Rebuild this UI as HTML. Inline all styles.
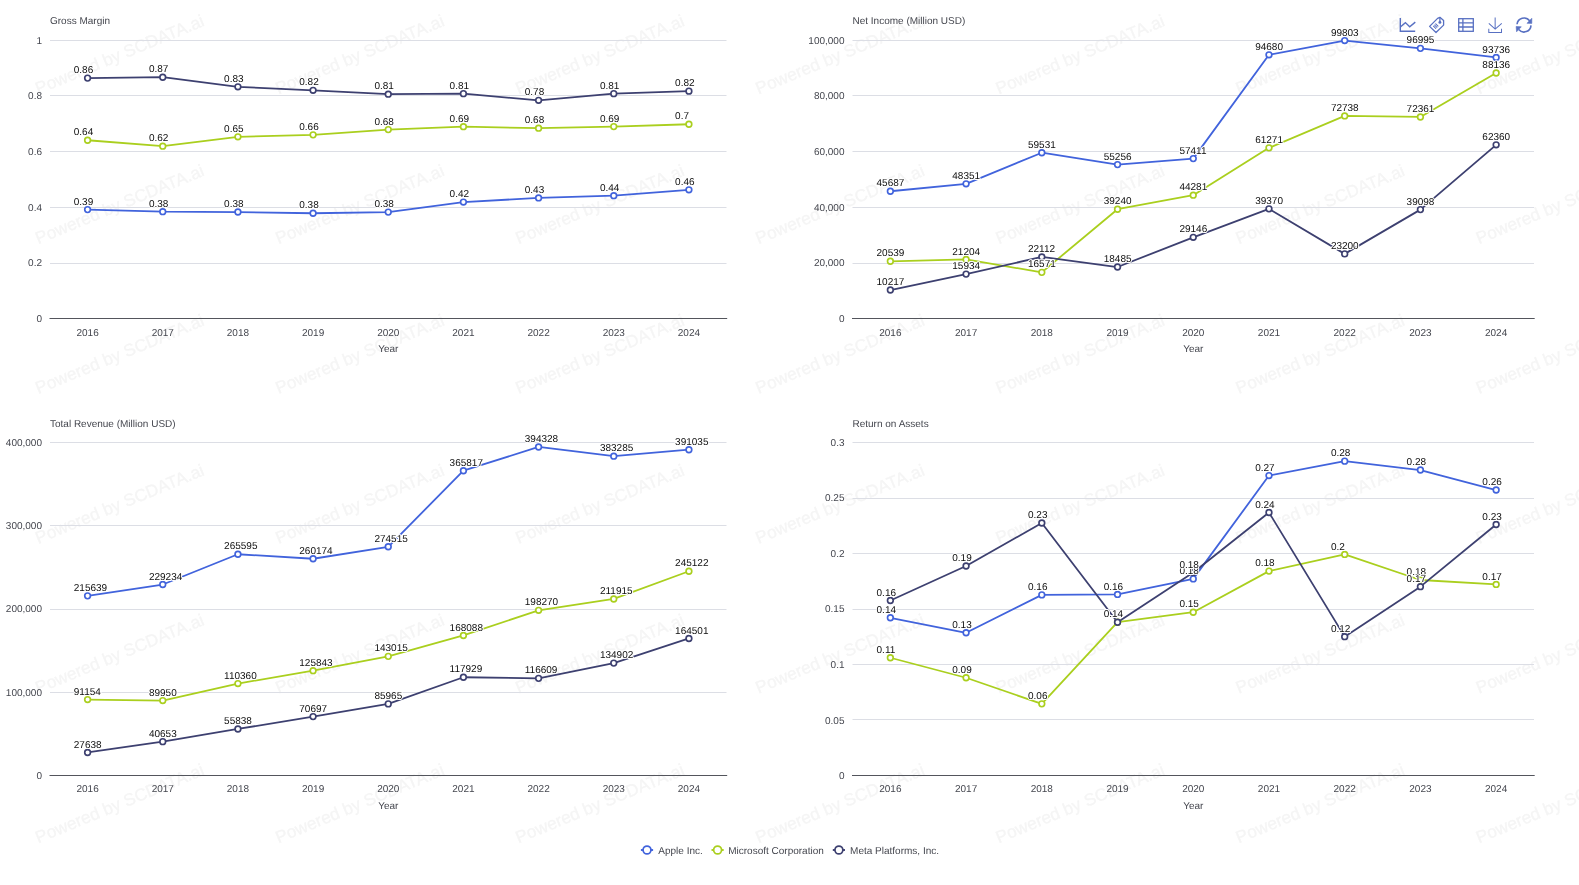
<!DOCTYPE html>
<html><head><meta charset="utf-8"><title>Chart</title>
<style>html,body{margin:0;padding:0;background:#fff;overflow:hidden;}svg{display:block;will-change:transform;}</style>
</head><body>
<svg width="1579" height="885" viewBox="0 0 1579 885" font-family='"Liberation Sans", sans-serif' font-size="10" text-rendering="geometricPrecision"><rect width="1579" height="885" fill="#fff"/><g fill="#f5f5f5" stroke="#f5f5f5" stroke-width="0.35" font-size="17.2"><text x="-201.80" y="-55.30" transform="rotate(-22.5 -201.80 -55.30)">Powered by SCDATA.ai</text><text x="38.30" y="-55.30" transform="rotate(-22.5 38.30 -55.30)">Powered by SCDATA.ai</text><text x="278.40" y="-55.30" transform="rotate(-22.5 278.40 -55.30)">Powered by SCDATA.ai</text><text x="518.50" y="-55.30" transform="rotate(-22.5 518.50 -55.30)">Powered by SCDATA.ai</text><text x="758.60" y="-55.30" transform="rotate(-22.5 758.60 -55.30)">Powered by SCDATA.ai</text><text x="998.70" y="-55.30" transform="rotate(-22.5 998.70 -55.30)">Powered by SCDATA.ai</text><text x="1238.80" y="-55.30" transform="rotate(-22.5 1238.80 -55.30)">Powered by SCDATA.ai</text><text x="1478.90" y="-55.30" transform="rotate(-22.5 1478.90 -55.30)">Powered by SCDATA.ai</text><text x="1719.00" y="-55.30" transform="rotate(-22.5 1719.00 -55.30)">Powered by SCDATA.ai</text><text x="-201.80" y="94.50" transform="rotate(-22.5 -201.80 94.50)">Powered by SCDATA.ai</text><text x="38.30" y="94.50" transform="rotate(-22.5 38.30 94.50)">Powered by SCDATA.ai</text><text x="278.40" y="94.50" transform="rotate(-22.5 278.40 94.50)">Powered by SCDATA.ai</text><text x="518.50" y="94.50" transform="rotate(-22.5 518.50 94.50)">Powered by SCDATA.ai</text><text x="758.60" y="94.50" transform="rotate(-22.5 758.60 94.50)">Powered by SCDATA.ai</text><text x="998.70" y="94.50" transform="rotate(-22.5 998.70 94.50)">Powered by SCDATA.ai</text><text x="1238.80" y="94.50" transform="rotate(-22.5 1238.80 94.50)">Powered by SCDATA.ai</text><text x="1478.90" y="94.50" transform="rotate(-22.5 1478.90 94.50)">Powered by SCDATA.ai</text><text x="1719.00" y="94.50" transform="rotate(-22.5 1719.00 94.50)">Powered by SCDATA.ai</text><text x="-201.80" y="244.30" transform="rotate(-22.5 -201.80 244.30)">Powered by SCDATA.ai</text><text x="38.30" y="244.30" transform="rotate(-22.5 38.30 244.30)">Powered by SCDATA.ai</text><text x="278.40" y="244.30" transform="rotate(-22.5 278.40 244.30)">Powered by SCDATA.ai</text><text x="518.50" y="244.30" transform="rotate(-22.5 518.50 244.30)">Powered by SCDATA.ai</text><text x="758.60" y="244.30" transform="rotate(-22.5 758.60 244.30)">Powered by SCDATA.ai</text><text x="998.70" y="244.30" transform="rotate(-22.5 998.70 244.30)">Powered by SCDATA.ai</text><text x="1238.80" y="244.30" transform="rotate(-22.5 1238.80 244.30)">Powered by SCDATA.ai</text><text x="1478.90" y="244.30" transform="rotate(-22.5 1478.90 244.30)">Powered by SCDATA.ai</text><text x="1719.00" y="244.30" transform="rotate(-22.5 1719.00 244.30)">Powered by SCDATA.ai</text><text x="-201.80" y="394.10" transform="rotate(-22.5 -201.80 394.10)">Powered by SCDATA.ai</text><text x="38.30" y="394.10" transform="rotate(-22.5 38.30 394.10)">Powered by SCDATA.ai</text><text x="278.40" y="394.10" transform="rotate(-22.5 278.40 394.10)">Powered by SCDATA.ai</text><text x="518.50" y="394.10" transform="rotate(-22.5 518.50 394.10)">Powered by SCDATA.ai</text><text x="758.60" y="394.10" transform="rotate(-22.5 758.60 394.10)">Powered by SCDATA.ai</text><text x="998.70" y="394.10" transform="rotate(-22.5 998.70 394.10)">Powered by SCDATA.ai</text><text x="1238.80" y="394.10" transform="rotate(-22.5 1238.80 394.10)">Powered by SCDATA.ai</text><text x="1478.90" y="394.10" transform="rotate(-22.5 1478.90 394.10)">Powered by SCDATA.ai</text><text x="1719.00" y="394.10" transform="rotate(-22.5 1719.00 394.10)">Powered by SCDATA.ai</text><text x="-201.80" y="543.90" transform="rotate(-22.5 -201.80 543.90)">Powered by SCDATA.ai</text><text x="38.30" y="543.90" transform="rotate(-22.5 38.30 543.90)">Powered by SCDATA.ai</text><text x="278.40" y="543.90" transform="rotate(-22.5 278.40 543.90)">Powered by SCDATA.ai</text><text x="518.50" y="543.90" transform="rotate(-22.5 518.50 543.90)">Powered by SCDATA.ai</text><text x="758.60" y="543.90" transform="rotate(-22.5 758.60 543.90)">Powered by SCDATA.ai</text><text x="998.70" y="543.90" transform="rotate(-22.5 998.70 543.90)">Powered by SCDATA.ai</text><text x="1238.80" y="543.90" transform="rotate(-22.5 1238.80 543.90)">Powered by SCDATA.ai</text><text x="1478.90" y="543.90" transform="rotate(-22.5 1478.90 543.90)">Powered by SCDATA.ai</text><text x="1719.00" y="543.90" transform="rotate(-22.5 1719.00 543.90)">Powered by SCDATA.ai</text><text x="-201.80" y="693.70" transform="rotate(-22.5 -201.80 693.70)">Powered by SCDATA.ai</text><text x="38.30" y="693.70" transform="rotate(-22.5 38.30 693.70)">Powered by SCDATA.ai</text><text x="278.40" y="693.70" transform="rotate(-22.5 278.40 693.70)">Powered by SCDATA.ai</text><text x="518.50" y="693.70" transform="rotate(-22.5 518.50 693.70)">Powered by SCDATA.ai</text><text x="758.60" y="693.70" transform="rotate(-22.5 758.60 693.70)">Powered by SCDATA.ai</text><text x="998.70" y="693.70" transform="rotate(-22.5 998.70 693.70)">Powered by SCDATA.ai</text><text x="1238.80" y="693.70" transform="rotate(-22.5 1238.80 693.70)">Powered by SCDATA.ai</text><text x="1478.90" y="693.70" transform="rotate(-22.5 1478.90 693.70)">Powered by SCDATA.ai</text><text x="1719.00" y="693.70" transform="rotate(-22.5 1719.00 693.70)">Powered by SCDATA.ai</text><text x="-201.80" y="843.50" transform="rotate(-22.5 -201.80 843.50)">Powered by SCDATA.ai</text><text x="38.30" y="843.50" transform="rotate(-22.5 38.30 843.50)">Powered by SCDATA.ai</text><text x="278.40" y="843.50" transform="rotate(-22.5 278.40 843.50)">Powered by SCDATA.ai</text><text x="518.50" y="843.50" transform="rotate(-22.5 518.50 843.50)">Powered by SCDATA.ai</text><text x="758.60" y="843.50" transform="rotate(-22.5 758.60 843.50)">Powered by SCDATA.ai</text><text x="998.70" y="843.50" transform="rotate(-22.5 998.70 843.50)">Powered by SCDATA.ai</text><text x="1238.80" y="843.50" transform="rotate(-22.5 1238.80 843.50)">Powered by SCDATA.ai</text><text x="1478.90" y="843.50" transform="rotate(-22.5 1478.90 843.50)">Powered by SCDATA.ai</text><text x="1719.00" y="843.50" transform="rotate(-22.5 1719.00 843.50)">Powered by SCDATA.ai</text><text x="-201.80" y="993.30" transform="rotate(-22.5 -201.80 993.30)">Powered by SCDATA.ai</text><text x="38.30" y="993.30" transform="rotate(-22.5 38.30 993.30)">Powered by SCDATA.ai</text><text x="278.40" y="993.30" transform="rotate(-22.5 278.40 993.30)">Powered by SCDATA.ai</text><text x="518.50" y="993.30" transform="rotate(-22.5 518.50 993.30)">Powered by SCDATA.ai</text><text x="758.60" y="993.30" transform="rotate(-22.5 758.60 993.30)">Powered by SCDATA.ai</text><text x="998.70" y="993.30" transform="rotate(-22.5 998.70 993.30)">Powered by SCDATA.ai</text><text x="1238.80" y="993.30" transform="rotate(-22.5 1238.80 993.30)">Powered by SCDATA.ai</text><text x="1478.90" y="993.30" transform="rotate(-22.5 1478.90 993.30)">Powered by SCDATA.ai</text><text x="1719.00" y="993.30" transform="rotate(-22.5 1719.00 993.30)">Powered by SCDATA.ai</text><text x="-201.80" y="1143.10" transform="rotate(-22.5 -201.80 1143.10)">Powered by SCDATA.ai</text><text x="38.30" y="1143.10" transform="rotate(-22.5 38.30 1143.10)">Powered by SCDATA.ai</text><text x="278.40" y="1143.10" transform="rotate(-22.5 278.40 1143.10)">Powered by SCDATA.ai</text><text x="518.50" y="1143.10" transform="rotate(-22.5 518.50 1143.10)">Powered by SCDATA.ai</text><text x="758.60" y="1143.10" transform="rotate(-22.5 758.60 1143.10)">Powered by SCDATA.ai</text><text x="998.70" y="1143.10" transform="rotate(-22.5 998.70 1143.10)">Powered by SCDATA.ai</text><text x="1238.80" y="1143.10" transform="rotate(-22.5 1238.80 1143.10)">Powered by SCDATA.ai</text><text x="1478.90" y="1143.10" transform="rotate(-22.5 1478.90 1143.10)">Powered by SCDATA.ai</text><text x="1719.00" y="1143.10" transform="rotate(-22.5 1719.00 1143.10)">Powered by SCDATA.ai</text></g><line x1="50" y1="263.50" x2="726.5" y2="263.50" stroke="#dcdee5" stroke-width="1"/><line x1="50" y1="207.50" x2="726.5" y2="207.50" stroke="#dcdee5" stroke-width="1"/><line x1="50" y1="151.50" x2="726.5" y2="151.50" stroke="#dcdee5" stroke-width="1"/><line x1="50" y1="95.50" x2="726.5" y2="95.50" stroke="#dcdee5" stroke-width="1"/><line x1="50" y1="40.50" x2="726.5" y2="40.50" stroke="#dcdee5" stroke-width="1"/><line x1="49.5" y1="318.5" x2="727.2" y2="318.5" stroke="#53555c" stroke-width="1"/><text x="42" y="322.10" text-anchor="end" fill="#44464e">0</text><text x="42" y="266.40" text-anchor="end" fill="#44464e">0.2</text><text x="42" y="210.70" text-anchor="end" fill="#44464e">0.4</text><text x="42" y="155.00" text-anchor="end" fill="#44464e">0.6</text><text x="42" y="99.30" text-anchor="end" fill="#44464e">0.8</text><text x="42" y="43.60" text-anchor="end" fill="#44464e">1</text><text x="87.58" y="335.50" text-anchor="middle" fill="#44464e">2016</text><text x="162.75" y="335.50" text-anchor="middle" fill="#44464e">2017</text><text x="237.92" y="335.50" text-anchor="middle" fill="#44464e">2018</text><text x="313.08" y="335.50" text-anchor="middle" fill="#44464e">2019</text><text x="388.25" y="335.50" text-anchor="middle" fill="#44464e">2020</text><text x="463.42" y="335.50" text-anchor="middle" fill="#44464e">2021</text><text x="538.58" y="335.50" text-anchor="middle" fill="#44464e">2022</text><text x="613.75" y="335.50" text-anchor="middle" fill="#44464e">2023</text><text x="688.92" y="335.50" text-anchor="middle" fill="#44464e">2024</text><text x="388.25" y="352.40" text-anchor="middle" fill="#44464e">Year</text><text x="50" y="23.90" fill="#44464e">Gross Margin</text><line x1="852.5" y1="263.50" x2="1534.0" y2="263.50" stroke="#dcdee5" stroke-width="1"/><line x1="852.5" y1="207.50" x2="1534.0" y2="207.50" stroke="#dcdee5" stroke-width="1"/><line x1="852.5" y1="151.50" x2="1534.0" y2="151.50" stroke="#dcdee5" stroke-width="1"/><line x1="852.5" y1="95.50" x2="1534.0" y2="95.50" stroke="#dcdee5" stroke-width="1"/><line x1="852.5" y1="40.50" x2="1534.0" y2="40.50" stroke="#dcdee5" stroke-width="1"/><line x1="852.0" y1="318.5" x2="1534.7" y2="318.5" stroke="#53555c" stroke-width="1"/><text x="844.5" y="322.10" text-anchor="end" fill="#44464e">0</text><text x="844.5" y="266.40" text-anchor="end" fill="#44464e">20,000</text><text x="844.5" y="210.70" text-anchor="end" fill="#44464e">40,000</text><text x="844.5" y="155.00" text-anchor="end" fill="#44464e">60,000</text><text x="844.5" y="99.30" text-anchor="end" fill="#44464e">80,000</text><text x="844.5" y="43.60" text-anchor="end" fill="#44464e">100,000</text><text x="890.36" y="335.50" text-anchor="middle" fill="#44464e">2016</text><text x="966.08" y="335.50" text-anchor="middle" fill="#44464e">2017</text><text x="1041.81" y="335.50" text-anchor="middle" fill="#44464e">2018</text><text x="1117.53" y="335.50" text-anchor="middle" fill="#44464e">2019</text><text x="1193.25" y="335.50" text-anchor="middle" fill="#44464e">2020</text><text x="1268.97" y="335.50" text-anchor="middle" fill="#44464e">2021</text><text x="1344.69" y="335.50" text-anchor="middle" fill="#44464e">2022</text><text x="1420.42" y="335.50" text-anchor="middle" fill="#44464e">2023</text><text x="1496.14" y="335.50" text-anchor="middle" fill="#44464e">2024</text><text x="1193.25" y="352.40" text-anchor="middle" fill="#44464e">Year</text><text x="852.5" y="23.90" fill="#44464e">Net Income (Million USD)</text><line x1="50" y1="692.50" x2="726.5" y2="692.50" stroke="#dcdee5" stroke-width="1"/><line x1="50" y1="609.50" x2="726.5" y2="609.50" stroke="#dcdee5" stroke-width="1"/><line x1="50" y1="525.50" x2="726.5" y2="525.50" stroke="#dcdee5" stroke-width="1"/><line x1="50" y1="442.50" x2="726.5" y2="442.50" stroke="#dcdee5" stroke-width="1"/><line x1="49.5" y1="775.5" x2="727.2" y2="775.5" stroke="#53555c" stroke-width="1"/><text x="42" y="779.10" text-anchor="end" fill="#44464e">0</text><text x="42" y="695.79" text-anchor="end" fill="#44464e">100,000</text><text x="42" y="612.48" text-anchor="end" fill="#44464e">200,000</text><text x="42" y="529.16" text-anchor="end" fill="#44464e">300,000</text><text x="42" y="445.85" text-anchor="end" fill="#44464e">400,000</text><text x="87.58" y="792.00" text-anchor="middle" fill="#44464e">2016</text><text x="162.75" y="792.00" text-anchor="middle" fill="#44464e">2017</text><text x="237.92" y="792.00" text-anchor="middle" fill="#44464e">2018</text><text x="313.08" y="792.00" text-anchor="middle" fill="#44464e">2019</text><text x="388.25" y="792.00" text-anchor="middle" fill="#44464e">2020</text><text x="463.42" y="792.00" text-anchor="middle" fill="#44464e">2021</text><text x="538.58" y="792.00" text-anchor="middle" fill="#44464e">2022</text><text x="613.75" y="792.00" text-anchor="middle" fill="#44464e">2023</text><text x="688.92" y="792.00" text-anchor="middle" fill="#44464e">2024</text><text x="388.25" y="808.90" text-anchor="middle" fill="#44464e">Year</text><text x="50" y="427.00" fill="#44464e">Total Revenue (Million USD)</text><line x1="852.5" y1="719.50" x2="1534.0" y2="719.50" stroke="#dcdee5" stroke-width="1"/><line x1="852.5" y1="664.50" x2="1534.0" y2="664.50" stroke="#dcdee5" stroke-width="1"/><line x1="852.5" y1="609.50" x2="1534.0" y2="609.50" stroke="#dcdee5" stroke-width="1"/><line x1="852.5" y1="553.50" x2="1534.0" y2="553.50" stroke="#dcdee5" stroke-width="1"/><line x1="852.5" y1="498.50" x2="1534.0" y2="498.50" stroke="#dcdee5" stroke-width="1"/><line x1="852.5" y1="442.50" x2="1534.0" y2="442.50" stroke="#dcdee5" stroke-width="1"/><line x1="852.0" y1="775.5" x2="1534.7" y2="775.5" stroke="#53555c" stroke-width="1"/><text x="844.5" y="779.10" text-anchor="end" fill="#44464e">0</text><text x="844.5" y="723.56" text-anchor="end" fill="#44464e">0.05</text><text x="844.5" y="668.02" text-anchor="end" fill="#44464e">0.1</text><text x="844.5" y="612.48" text-anchor="end" fill="#44464e">0.15</text><text x="844.5" y="556.93" text-anchor="end" fill="#44464e">0.2</text><text x="844.5" y="501.39" text-anchor="end" fill="#44464e">0.25</text><text x="844.5" y="445.85" text-anchor="end" fill="#44464e">0.3</text><text x="890.36" y="792.00" text-anchor="middle" fill="#44464e">2016</text><text x="966.08" y="792.00" text-anchor="middle" fill="#44464e">2017</text><text x="1041.81" y="792.00" text-anchor="middle" fill="#44464e">2018</text><text x="1117.53" y="792.00" text-anchor="middle" fill="#44464e">2019</text><text x="1193.25" y="792.00" text-anchor="middle" fill="#44464e">2020</text><text x="1268.97" y="792.00" text-anchor="middle" fill="#44464e">2021</text><text x="1344.69" y="792.00" text-anchor="middle" fill="#44464e">2022</text><text x="1420.42" y="792.00" text-anchor="middle" fill="#44464e">2023</text><text x="1496.14" y="792.00" text-anchor="middle" fill="#44464e">2024</text><text x="1193.25" y="808.90" text-anchor="middle" fill="#44464e">Year</text><text x="852.5" y="427.00" fill="#44464e">Return on Assets</text><polyline points="87.58,209.61 162.75,211.70 237.92,212.03 313.08,213.23 388.25,212.11 463.42,202.09 538.58,197.91 613.75,195.68 688.92,189.83" fill="none" stroke="#4163dc" stroke-width="1.8" stroke-linejoin="round"/><polyline points="87.58,140.26 162.75,146.16 237.92,136.81 313.08,134.86 388.25,129.62 463.42,126.67 538.58,128.17 613.75,126.61 688.92,124.25" fill="none" stroke="#aacf1e" stroke-width="1.8" stroke-linejoin="round"/><polyline points="87.58,78.10 162.75,77.21 237.92,86.84 313.08,90.30 388.25,94.20 463.42,93.64 538.58,100.32 613.75,93.64 688.92,91.13" fill="none" stroke="#3d4070" stroke-width="1.8" stroke-linejoin="round"/><circle cx="87.58" cy="209.61" r="2.85" fill="#fff" stroke="#4163dc" stroke-width="1.65"/><circle cx="162.75" cy="211.70" r="2.85" fill="#fff" stroke="#4163dc" stroke-width="1.65"/><circle cx="237.92" cy="212.03" r="2.85" fill="#fff" stroke="#4163dc" stroke-width="1.65"/><circle cx="313.08" cy="213.23" r="2.85" fill="#fff" stroke="#4163dc" stroke-width="1.65"/><circle cx="388.25" cy="212.11" r="2.85" fill="#fff" stroke="#4163dc" stroke-width="1.65"/><circle cx="463.42" cy="202.09" r="2.85" fill="#fff" stroke="#4163dc" stroke-width="1.65"/><circle cx="538.58" cy="197.91" r="2.85" fill="#fff" stroke="#4163dc" stroke-width="1.65"/><circle cx="613.75" cy="195.68" r="2.85" fill="#fff" stroke="#4163dc" stroke-width="1.65"/><circle cx="688.92" cy="189.83" r="2.85" fill="#fff" stroke="#4163dc" stroke-width="1.65"/><circle cx="87.58" cy="140.26" r="2.85" fill="#fff" stroke="#aacf1e" stroke-width="1.65"/><circle cx="162.75" cy="146.16" r="2.85" fill="#fff" stroke="#aacf1e" stroke-width="1.65"/><circle cx="237.92" cy="136.81" r="2.85" fill="#fff" stroke="#aacf1e" stroke-width="1.65"/><circle cx="313.08" cy="134.86" r="2.85" fill="#fff" stroke="#aacf1e" stroke-width="1.65"/><circle cx="388.25" cy="129.62" r="2.85" fill="#fff" stroke="#aacf1e" stroke-width="1.65"/><circle cx="463.42" cy="126.67" r="2.85" fill="#fff" stroke="#aacf1e" stroke-width="1.65"/><circle cx="538.58" cy="128.17" r="2.85" fill="#fff" stroke="#aacf1e" stroke-width="1.65"/><circle cx="613.75" cy="126.61" r="2.85" fill="#fff" stroke="#aacf1e" stroke-width="1.65"/><circle cx="688.92" cy="124.25" r="2.85" fill="#fff" stroke="#aacf1e" stroke-width="1.65"/><circle cx="87.58" cy="78.10" r="2.85" fill="#fff" stroke="#3d4070" stroke-width="1.65"/><circle cx="162.75" cy="77.21" r="2.85" fill="#fff" stroke="#3d4070" stroke-width="1.65"/><circle cx="237.92" cy="86.84" r="2.85" fill="#fff" stroke="#3d4070" stroke-width="1.65"/><circle cx="313.08" cy="90.30" r="2.85" fill="#fff" stroke="#3d4070" stroke-width="1.65"/><circle cx="388.25" cy="94.20" r="2.85" fill="#fff" stroke="#3d4070" stroke-width="1.65"/><circle cx="463.42" cy="93.64" r="2.85" fill="#fff" stroke="#3d4070" stroke-width="1.65"/><circle cx="538.58" cy="100.32" r="2.85" fill="#fff" stroke="#3d4070" stroke-width="1.65"/><circle cx="613.75" cy="93.64" r="2.85" fill="#fff" stroke="#3d4070" stroke-width="1.65"/><circle cx="688.92" cy="91.13" r="2.85" fill="#fff" stroke="#3d4070" stroke-width="1.65"/><g fill="#0e0e0e" stroke="#fff" stroke-width="2" paint-order="stroke" stroke-linejoin="round"><text x="73.78" y="205">0.39</text><text x="148.95" y="207">0.38</text><text x="224.12" y="207">0.38</text><text x="299.28" y="208">0.38</text><text x="374.45" y="207">0.38</text><text x="449.62" y="197">0.42</text><text x="524.78" y="193">0.43</text><text x="599.95" y="191">0.44</text><text x="675.12" y="185">0.46</text><text x="73.78" y="135">0.64</text><text x="148.95" y="141">0.62</text><text x="224.12" y="132">0.65</text><text x="299.28" y="130">0.66</text><text x="374.45" y="125">0.68</text><text x="449.62" y="122">0.69</text><text x="524.78" y="123">0.68</text><text x="599.95" y="122">0.69</text><text x="675.12" y="119">0.7</text><text x="73.78" y="73">0.86</text><text x="148.95" y="72">0.87</text><text x="224.12" y="82">0.83</text><text x="299.28" y="85">0.82</text><text x="374.45" y="89">0.81</text><text x="449.62" y="89">0.81</text><text x="524.78" y="95">0.78</text><text x="599.95" y="89">0.81</text><text x="675.12" y="86">0.82</text></g><polyline points="890.36,191.26 966.08,183.84 1041.81,152.71 1117.53,164.61 1193.25,158.61 1268.97,54.82 1344.69,40.55 1420.42,48.37 1496.14,57.45" fill="none" stroke="#4163dc" stroke-width="1.8" stroke-linejoin="round"/><polyline points="890.36,261.30 966.08,259.45 1041.81,272.35 1117.53,209.22 1193.25,195.18 1268.97,147.86 1344.69,115.92 1420.42,116.97 1496.14,73.04" fill="none" stroke="#aacf1e" stroke-width="1.8" stroke-linejoin="round"/><polyline points="890.36,290.05 966.08,274.12 1041.81,256.92 1117.53,267.02 1193.25,237.33 1268.97,208.85 1344.69,253.89 1420.42,209.61 1496.14,144.83" fill="none" stroke="#3d4070" stroke-width="1.8" stroke-linejoin="round"/><circle cx="890.36" cy="191.26" r="2.85" fill="#fff" stroke="#4163dc" stroke-width="1.65"/><circle cx="966.08" cy="183.84" r="2.85" fill="#fff" stroke="#4163dc" stroke-width="1.65"/><circle cx="1041.81" cy="152.71" r="2.85" fill="#fff" stroke="#4163dc" stroke-width="1.65"/><circle cx="1117.53" cy="164.61" r="2.85" fill="#fff" stroke="#4163dc" stroke-width="1.65"/><circle cx="1193.25" cy="158.61" r="2.85" fill="#fff" stroke="#4163dc" stroke-width="1.65"/><circle cx="1268.97" cy="54.82" r="2.85" fill="#fff" stroke="#4163dc" stroke-width="1.65"/><circle cx="1344.69" cy="40.55" r="2.85" fill="#fff" stroke="#4163dc" stroke-width="1.65"/><circle cx="1420.42" cy="48.37" r="2.85" fill="#fff" stroke="#4163dc" stroke-width="1.65"/><circle cx="1496.14" cy="57.45" r="2.85" fill="#fff" stroke="#4163dc" stroke-width="1.65"/><circle cx="890.36" cy="261.30" r="2.85" fill="#fff" stroke="#aacf1e" stroke-width="1.65"/><circle cx="966.08" cy="259.45" r="2.85" fill="#fff" stroke="#aacf1e" stroke-width="1.65"/><circle cx="1041.81" cy="272.35" r="2.85" fill="#fff" stroke="#aacf1e" stroke-width="1.65"/><circle cx="1117.53" cy="209.22" r="2.85" fill="#fff" stroke="#aacf1e" stroke-width="1.65"/><circle cx="1193.25" cy="195.18" r="2.85" fill="#fff" stroke="#aacf1e" stroke-width="1.65"/><circle cx="1268.97" cy="147.86" r="2.85" fill="#fff" stroke="#aacf1e" stroke-width="1.65"/><circle cx="1344.69" cy="115.92" r="2.85" fill="#fff" stroke="#aacf1e" stroke-width="1.65"/><circle cx="1420.42" cy="116.97" r="2.85" fill="#fff" stroke="#aacf1e" stroke-width="1.65"/><circle cx="1496.14" cy="73.04" r="2.85" fill="#fff" stroke="#aacf1e" stroke-width="1.65"/><circle cx="890.36" cy="290.05" r="2.85" fill="#fff" stroke="#3d4070" stroke-width="1.65"/><circle cx="966.08" cy="274.12" r="2.85" fill="#fff" stroke="#3d4070" stroke-width="1.65"/><circle cx="1041.81" cy="256.92" r="2.85" fill="#fff" stroke="#3d4070" stroke-width="1.65"/><circle cx="1117.53" cy="267.02" r="2.85" fill="#fff" stroke="#3d4070" stroke-width="1.65"/><circle cx="1193.25" cy="237.33" r="2.85" fill="#fff" stroke="#3d4070" stroke-width="1.65"/><circle cx="1268.97" cy="208.85" r="2.85" fill="#fff" stroke="#3d4070" stroke-width="1.65"/><circle cx="1344.69" cy="253.89" r="2.85" fill="#fff" stroke="#3d4070" stroke-width="1.65"/><circle cx="1420.42" cy="209.61" r="2.85" fill="#fff" stroke="#3d4070" stroke-width="1.65"/><circle cx="1496.14" cy="144.83" r="2.85" fill="#fff" stroke="#3d4070" stroke-width="1.65"/><g fill="#0e0e0e" stroke="#fff" stroke-width="2" paint-order="stroke" stroke-linejoin="round"><text x="876.56" y="186">45687</text><text x="952.28" y="179">48351</text><text x="1028.01" y="148">59531</text><text x="1103.73" y="160">55256</text><text x="1179.45" y="154">57411</text><text x="1255.17" y="50">94680</text><text x="1330.89" y="36">99803</text><text x="1406.62" y="43">96995</text><text x="1482.34" y="53">93736</text><text x="876.56" y="256">20539</text><text x="952.28" y="255">21204</text><text x="1028.01" y="267">16571</text><text x="1103.73" y="204">39240</text><text x="1179.45" y="190">44281</text><text x="1255.17" y="143">61271</text><text x="1330.89" y="111">72738</text><text x="1406.62" y="112">72361</text><text x="1482.34" y="68">88136</text><text x="876.56" y="285">10217</text><text x="952.28" y="269">15934</text><text x="1028.01" y="252">22112</text><text x="1103.73" y="262">18485</text><text x="1179.45" y="232">29146</text><text x="1255.17" y="204">39370</text><text x="1330.89" y="249">23200</text><text x="1406.62" y="205">39098</text><text x="1482.34" y="140">62360</text></g><polyline points="87.58,595.85 162.75,584.52 237.92,554.23 313.08,558.74 388.25,546.79 463.42,470.73 538.58,446.98 613.75,456.18 688.92,449.72" fill="none" stroke="#4163dc" stroke-width="1.8" stroke-linejoin="round"/><polyline points="87.58,699.56 162.75,700.56 237.92,683.56 313.08,670.66 388.25,656.35 463.42,635.46 538.58,610.32 613.75,598.95 688.92,571.28" fill="none" stroke="#aacf1e" stroke-width="1.8" stroke-linejoin="round"/><polyline points="87.58,752.47 162.75,741.63 237.92,728.98 313.08,716.60 388.25,703.88 463.42,677.25 538.58,678.35 613.75,663.11 688.92,638.45" fill="none" stroke="#3d4070" stroke-width="1.8" stroke-linejoin="round"/><circle cx="87.58" cy="595.85" r="2.85" fill="#fff" stroke="#4163dc" stroke-width="1.65"/><circle cx="162.75" cy="584.52" r="2.85" fill="#fff" stroke="#4163dc" stroke-width="1.65"/><circle cx="237.92" cy="554.23" r="2.85" fill="#fff" stroke="#4163dc" stroke-width="1.65"/><circle cx="313.08" cy="558.74" r="2.85" fill="#fff" stroke="#4163dc" stroke-width="1.65"/><circle cx="388.25" cy="546.79" r="2.85" fill="#fff" stroke="#4163dc" stroke-width="1.65"/><circle cx="463.42" cy="470.73" r="2.85" fill="#fff" stroke="#4163dc" stroke-width="1.65"/><circle cx="538.58" cy="446.98" r="2.85" fill="#fff" stroke="#4163dc" stroke-width="1.65"/><circle cx="613.75" cy="456.18" r="2.85" fill="#fff" stroke="#4163dc" stroke-width="1.65"/><circle cx="688.92" cy="449.72" r="2.85" fill="#fff" stroke="#4163dc" stroke-width="1.65"/><circle cx="87.58" cy="699.56" r="2.85" fill="#fff" stroke="#aacf1e" stroke-width="1.65"/><circle cx="162.75" cy="700.56" r="2.85" fill="#fff" stroke="#aacf1e" stroke-width="1.65"/><circle cx="237.92" cy="683.56" r="2.85" fill="#fff" stroke="#aacf1e" stroke-width="1.65"/><circle cx="313.08" cy="670.66" r="2.85" fill="#fff" stroke="#aacf1e" stroke-width="1.65"/><circle cx="388.25" cy="656.35" r="2.85" fill="#fff" stroke="#aacf1e" stroke-width="1.65"/><circle cx="463.42" cy="635.46" r="2.85" fill="#fff" stroke="#aacf1e" stroke-width="1.65"/><circle cx="538.58" cy="610.32" r="2.85" fill="#fff" stroke="#aacf1e" stroke-width="1.65"/><circle cx="613.75" cy="598.95" r="2.85" fill="#fff" stroke="#aacf1e" stroke-width="1.65"/><circle cx="688.92" cy="571.28" r="2.85" fill="#fff" stroke="#aacf1e" stroke-width="1.65"/><circle cx="87.58" cy="752.47" r="2.85" fill="#fff" stroke="#3d4070" stroke-width="1.65"/><circle cx="162.75" cy="741.63" r="2.85" fill="#fff" stroke="#3d4070" stroke-width="1.65"/><circle cx="237.92" cy="728.98" r="2.85" fill="#fff" stroke="#3d4070" stroke-width="1.65"/><circle cx="313.08" cy="716.60" r="2.85" fill="#fff" stroke="#3d4070" stroke-width="1.65"/><circle cx="388.25" cy="703.88" r="2.85" fill="#fff" stroke="#3d4070" stroke-width="1.65"/><circle cx="463.42" cy="677.25" r="2.85" fill="#fff" stroke="#3d4070" stroke-width="1.65"/><circle cx="538.58" cy="678.35" r="2.85" fill="#fff" stroke="#3d4070" stroke-width="1.65"/><circle cx="613.75" cy="663.11" r="2.85" fill="#fff" stroke="#3d4070" stroke-width="1.65"/><circle cx="688.92" cy="638.45" r="2.85" fill="#fff" stroke="#3d4070" stroke-width="1.65"/><g fill="#0e0e0e" stroke="#fff" stroke-width="2" paint-order="stroke" stroke-linejoin="round"><text x="73.78" y="591">215639</text><text x="148.95" y="580">229234</text><text x="224.12" y="549">265595</text><text x="299.28" y="554">260174</text><text x="374.45" y="542">274515</text><text x="449.62" y="466">365817</text><text x="524.78" y="442">394328</text><text x="599.95" y="451">383285</text><text x="675.12" y="445">391035</text><text x="73.78" y="695">91154</text><text x="148.95" y="696">89950</text><text x="224.12" y="679">110360</text><text x="299.28" y="666">125843</text><text x="374.45" y="651">143015</text><text x="449.62" y="631">168088</text><text x="524.78" y="605">198270</text><text x="599.95" y="594">211915</text><text x="675.12" y="566">245122</text><text x="73.78" y="748">27638</text><text x="148.95" y="737">40653</text><text x="224.12" y="724">55838</text><text x="299.28" y="712">70697</text><text x="374.45" y="699">85965</text><text x="449.62" y="672">117929</text><text x="524.78" y="673">116609</text><text x="599.95" y="658">134902</text><text x="675.12" y="634">164501</text></g><polyline points="890.36,617.76 966.08,632.76 1041.81,594.88 1117.53,594.43 1193.25,578.88 1268.97,475.57 1344.69,461.13 1420.42,470.02 1496.14,490.02" fill="none" stroke="#4163dc" stroke-width="1.8" stroke-linejoin="round"/><polyline points="890.36,657.75 966.08,677.75 1041.81,703.85 1117.53,622.20 1193.25,612.21 1268.97,571.11 1344.69,554.44 1420.42,579.99 1496.14,584.44" fill="none" stroke="#aacf1e" stroke-width="1.8" stroke-linejoin="round"/><polyline points="890.36,600.54 966.08,566.00 1041.81,523.01 1117.53,622.20 1193.25,572.44 1268.97,512.45 1344.69,636.65 1420.42,586.66 1496.14,524.45" fill="none" stroke="#3d4070" stroke-width="1.8" stroke-linejoin="round"/><circle cx="890.36" cy="617.76" r="2.85" fill="#fff" stroke="#4163dc" stroke-width="1.65"/><circle cx="966.08" cy="632.76" r="2.85" fill="#fff" stroke="#4163dc" stroke-width="1.65"/><circle cx="1041.81" cy="594.88" r="2.85" fill="#fff" stroke="#4163dc" stroke-width="1.65"/><circle cx="1117.53" cy="594.43" r="2.85" fill="#fff" stroke="#4163dc" stroke-width="1.65"/><circle cx="1193.25" cy="578.88" r="2.85" fill="#fff" stroke="#4163dc" stroke-width="1.65"/><circle cx="1268.97" cy="475.57" r="2.85" fill="#fff" stroke="#4163dc" stroke-width="1.65"/><circle cx="1344.69" cy="461.13" r="2.85" fill="#fff" stroke="#4163dc" stroke-width="1.65"/><circle cx="1420.42" cy="470.02" r="2.85" fill="#fff" stroke="#4163dc" stroke-width="1.65"/><circle cx="1496.14" cy="490.02" r="2.85" fill="#fff" stroke="#4163dc" stroke-width="1.65"/><circle cx="890.36" cy="657.75" r="2.85" fill="#fff" stroke="#aacf1e" stroke-width="1.65"/><circle cx="966.08" cy="677.75" r="2.85" fill="#fff" stroke="#aacf1e" stroke-width="1.65"/><circle cx="1041.81" cy="703.85" r="2.85" fill="#fff" stroke="#aacf1e" stroke-width="1.65"/><circle cx="1117.53" cy="622.20" r="2.85" fill="#fff" stroke="#aacf1e" stroke-width="1.65"/><circle cx="1193.25" cy="612.21" r="2.85" fill="#fff" stroke="#aacf1e" stroke-width="1.65"/><circle cx="1268.97" cy="571.11" r="2.85" fill="#fff" stroke="#aacf1e" stroke-width="1.65"/><circle cx="1344.69" cy="554.44" r="2.85" fill="#fff" stroke="#aacf1e" stroke-width="1.65"/><circle cx="1420.42" cy="579.99" r="2.85" fill="#fff" stroke="#aacf1e" stroke-width="1.65"/><circle cx="1496.14" cy="584.44" r="2.85" fill="#fff" stroke="#aacf1e" stroke-width="1.65"/><circle cx="890.36" cy="600.54" r="2.85" fill="#fff" stroke="#3d4070" stroke-width="1.65"/><circle cx="966.08" cy="566.00" r="2.85" fill="#fff" stroke="#3d4070" stroke-width="1.65"/><circle cx="1041.81" cy="523.01" r="2.85" fill="#fff" stroke="#3d4070" stroke-width="1.65"/><circle cx="1117.53" cy="622.20" r="2.85" fill="#fff" stroke="#3d4070" stroke-width="1.65"/><circle cx="1193.25" cy="572.44" r="2.85" fill="#fff" stroke="#3d4070" stroke-width="1.65"/><circle cx="1268.97" cy="512.45" r="2.85" fill="#fff" stroke="#3d4070" stroke-width="1.65"/><circle cx="1344.69" cy="636.65" r="2.85" fill="#fff" stroke="#3d4070" stroke-width="1.65"/><circle cx="1420.42" cy="586.66" r="2.85" fill="#fff" stroke="#3d4070" stroke-width="1.65"/><circle cx="1496.14" cy="524.45" r="2.85" fill="#fff" stroke="#3d4070" stroke-width="1.65"/><g fill="#0e0e0e" stroke="#fff" stroke-width="2" paint-order="stroke" stroke-linejoin="round"><text x="876.56" y="613">0.14</text><text x="952.28" y="628">0.13</text><text x="1028.01" y="590">0.16</text><text x="1103.73" y="590">0.16</text><text x="1179.45" y="574">0.18</text><text x="1255.17" y="471">0.27</text><text x="1330.89" y="456">0.28</text><text x="1406.62" y="465">0.28</text><text x="1482.34" y="485">0.26</text><text x="876.56" y="653">0.11</text><text x="952.28" y="673">0.09</text><text x="1028.01" y="699">0.06</text><text x="1103.73" y="617">0.14</text><text x="1179.45" y="607">0.15</text><text x="1255.17" y="566">0.18</text><text x="1330.89" y="550">0.2</text><text x="1406.62" y="575">0.18</text><text x="1482.34" y="580">0.17</text><text x="876.56" y="596">0.16</text><text x="952.28" y="561">0.19</text><text x="1028.01" y="518">0.23</text><text x="1103.73" y="617">0.14</text><text x="1179.45" y="568">0.18</text><text x="1255.17" y="508">0.24</text><text x="1330.89" y="632">0.12</text><text x="1406.62" y="582">0.17</text><text x="1482.34" y="520">0.23</text></g><line x1="640.9" y1="850.0" x2="653.1" y2="850.0" stroke="#4163dc" stroke-width="1.9"/><circle cx="647.0" cy="850.0" r="3.95" fill="#fff" stroke="#4163dc" stroke-width="1.7"/><text x="658.3" y="853.6" fill="#44464e">Apple Inc.</text><line x1="711.5" y1="850.0" x2="723.7" y2="850.0" stroke="#aacf1e" stroke-width="1.9"/><circle cx="717.6" cy="850.0" r="3.95" fill="#fff" stroke="#aacf1e" stroke-width="1.7"/><text x="728.2" y="853.6" fill="#44464e">Microsoft Corporation</text><line x1="832.8" y1="850.0" x2="845.0" y2="850.0" stroke="#3d4070" stroke-width="1.9"/><circle cx="838.9" cy="850.0" r="3.95" fill="#fff" stroke="#3d4070" stroke-width="1.7"/><text x="850.1" y="853.6" fill="#44464e">Meta Platforms, Inc.</text><g fill="none" stroke="#5870c2" stroke-width="1.4"><path d="M1400.3,18 V31.2 H1415.2"/><path d="M1400.6,26.8 L1405.4,22.6 L1409.7,26.7 L1415.3,22.1"/></g><g fill="none" stroke="#5870c2" stroke-width="1.3" stroke-linejoin="round"><path d="M1429.6,26.4 L1437.6,18.4 L1439.9,17.3 L1443.6,20.6 L1443.6,25.1 L1436.0,32.5 Z"/><path d="M1439.9,17.3 V22"/></g><circle cx="1439.9" cy="22.4" r="1.45" fill="#5870c2"/><g stroke="#5870c2" stroke-width="1.05" stroke-linecap="round"><path d="M1433.5,26.2 l2.3,2.3 M1434.6,25.0 l2.3,2.3 M1435.7,23.8 l2.3,2.3"/></g><g fill="none" stroke="#5870c2" stroke-width="1.3"><rect x="1458.7" y="18.7" width="14.6" height="12.6"/><path d="M1458.7,22.9 H1473.3 M1458.7,27 H1473.3 M1462.9,18.7 V31.3"/></g><g transform="translate(1487.6,17.4) scale(0.2586)"><path d="M4.7,22.9L29.3,45.5L54.7,23.4M4.6,43.6L4.6,58L53.8,58L53.8,43.6M29.2,45.1L29.2,0" fill="none" stroke="#5870c2" stroke-width="3.87"/></g><g fill="none" stroke="#5870c2" stroke-width="1.6"><path d="M1517.04,24.27 A7,7 0 0 1 1529.66,20.89"/><path d="M1530.99,25.37 A7,7 0 0 1 1518.72,29.59"/></g><g fill="#5870c2" stroke="#5870c2" stroke-width="0.6" stroke-linejoin="round"><path d="M1527.0,23.3 L1531.8,23.4 L1531.8,18.3 Z"/><path d="M1521.3,26.8 L1516.1,26.5 L1516.6,31.8 Z"/></g></svg>
</body></html>
